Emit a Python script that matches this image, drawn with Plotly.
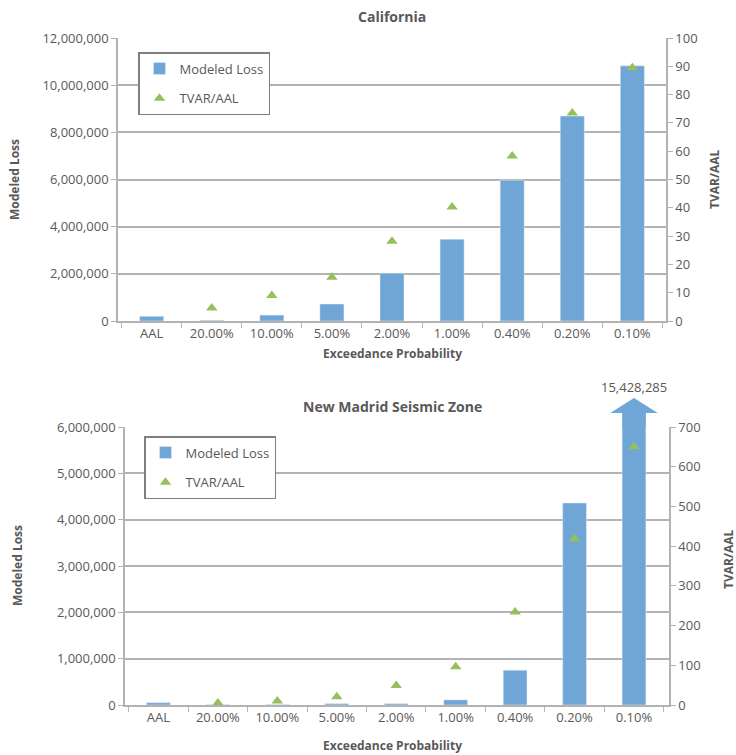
import plotly.graph_objects as go

categories = ["AAL", "20.00%", "10.00%", "5.00%", "2.00%", "1.00%", "0.40%", "0.20%", "0.10%"]

ca_loss = [200000, 30000, 250000, 720000, 2030000, 3470000, 5970000, 8690000, 10820000]
ca_tvar = [None, 4.6, 9.0, 15.5, 28.2, 40.3, 58.3, 73.5, 89.5]

nm_loss = [50000, 8000, 10000, 30000, 30000, 110000, 750000, 4360000, 15428285]
nm_tvar = [None, 5, 10, 21, 49, 96, 234, 418, 650]
nm_overflow_label = "15,428,285"

BAR = "#6fa6d6"
TRI = "#95c05a"
TXT = "#595959"
GRID = "#b3b3b3"
FONT = "Open Sans"

W, H = 736, 755
def px(x): return x / W
def py(y): return 1 - y / H

fig = go.Figure()

fig.add_trace(go.Bar(x=categories, y=ca_loss, name="Modeled Loss", marker_color=BAR,
                     xaxis="x", yaxis="y", legend="legend", legendgroup="a"))
fig.add_trace(go.Scatter(x=categories, y=ca_tvar, name="TVAR/AAL", mode="markers",
                         marker=dict(symbol="triangle-up", size=10, color=TRI),
                         xaxis="x", yaxis="y2", legend="legend", legendgroup="b"))
fig.add_trace(go.Bar(x=categories, y=nm_loss, name="Modeled Loss", marker_color=BAR,
                     xaxis="x2", yaxis="y3", legend="legend2", legendgroup="c"))
fig.add_trace(go.Scatter(x=categories, y=nm_tvar, name="TVAR/AAL", mode="markers",
                         marker=dict(symbol="triangle-up", size=10, color=TRI),
                         xaxis="x2", yaxis="y4", legend="legend2", legendgroup="d"))

tickfont = dict(family=FONT, size=13, color=TXT)
xcommon = dict(type="category", showgrid=False, showline=True, linecolor=GRID, linewidth=1.5,
               ticks="outside", tickson="boundaries", ticklen=5, tickcolor=GRID,
               tickfont=tickfont, fixedrange=True, automargin=False)
yleft = dict(showgrid=True, gridcolor=GRID, gridwidth=1.5, showline=True, linecolor=GRID, linewidth=1.5,
             ticks="outside", ticklen=5, tickcolor=GRID, tickformat=",d", tickfont=tickfont,
             zeroline=False, automargin=False)
yright = dict(showgrid=False, showline=True, linecolor=GRID, linewidth=1.5, side="right",
              ticks="outside", ticklen=5, tickcolor=GRID, tickfont=tickfont, zeroline=False,
              automargin=False)

top_dom = [py(321), py(38)]
bot_dom = [py(705), py(427)]

legfont = dict(family=FONT, size=13, color=TXT)
fig.update_layout(
    width=W, height=H, margin=dict(l=0, r=0, t=0, b=0, autoexpand=False),
    paper_bgcolor="white", plot_bgcolor="white",
    bargap=0.6, showlegend=True,
    xaxis=dict(domain=[px(118), px(666)], anchor="y", **xcommon),
    yaxis=dict(domain=top_dom, anchor="x", range=[0, 12000000], dtick=2000000, **yleft),
    yaxis2=dict(overlaying="y", anchor="x", range=[0, 100], dtick=10, **yright),
    xaxis2=dict(domain=[px(125), px(669)], anchor="y3", **xcommon),
    yaxis3=dict(domain=bot_dom, anchor="x2", range=[0, 6000000], dtick=1000000, **yleft),
    yaxis4=dict(overlaying="y3", anchor="x2", range=[0, 700], dtick=100, **yright),
    legend=dict(x=px(138), y=py(52), xanchor="left", yanchor="top", bgcolor="white",
                bordercolor="#7f7f7f", borderwidth=1.5, font=legfont,
                itemwidth=30, tracegroupgap=10),
    legend2=dict(x=px(144), y=py(436), xanchor="left", yanchor="top", bgcolor="white",
                 bordercolor="#7f7f7f", borderwidth=1.5, font=legfont,
                 itemwidth=30, tracegroupgap=10),
)

# arrow indicating the clipped bar
idx = categories.index("0.10%")
hw, ahw = 0.2, 0.40
yb, ya, yt = py(427), py(413), py(398)
path = (f"M {idx-hw},{yb} L {idx-hw},{ya} L {idx-ahw},{ya} L {idx},{yt} "
        f"L {idx+ahw},{ya} L {idx+hw},{ya} L {idx+hw},{yb} Z")
fig.add_shape(type="path", path=path, xref="x2", yref="paper", fillcolor=BAR, line=dict(width=0))

annots = [
    dict(text="<b>California</b>", x=px(392), y=py(16), font=dict(family=FONT, size=14, color=TXT)),
    dict(text="<b>New Madrid Seismic Zone</b>", x=px(392), y=py(407), font=dict(family=FONT, size=14, color=TXT)),
    dict(text="<b>Exceedance Probability</b>", x=px(392), y=py(353), font=dict(family=FONT, size=12, color=TXT)),
    dict(text="<b>Exceedance Probability</b>", x=px(392), y=py(745), font=dict(family=FONT, size=12, color=TXT)),
    dict(text="<b>Modeled Loss</b>", x=px(14), y=py(180), textangle=-90, font=dict(family=FONT, size=12, color=TXT)),
    dict(text="<b>Modeled Loss</b>", x=px(17), y=py(566), textangle=-90, font=dict(family=FONT, size=12, color=TXT)),
    dict(text="<b>TVAR/AAL</b>", x=px(714), y=py(180), textangle=-90, font=dict(family=FONT, size=12, color=TXT)),
    dict(text="<b>TVAR/AAL</b>", x=px(728), y=py(560), textangle=-90, font=dict(family=FONT, size=12, color=TXT)),
]
for a in annots:
    fig.add_annotation(xref="paper", yref="paper", showarrow=False, xanchor="center", yanchor="middle", **a)

fig.add_annotation(text=nm_overflow_label, x=idx, xref="x2", y=py(387), yref="paper",
                   showarrow=False, xanchor="center", yanchor="middle",
                   font=dict(family=FONT, size=13, color=TXT))

fig.write_html("out.html")
